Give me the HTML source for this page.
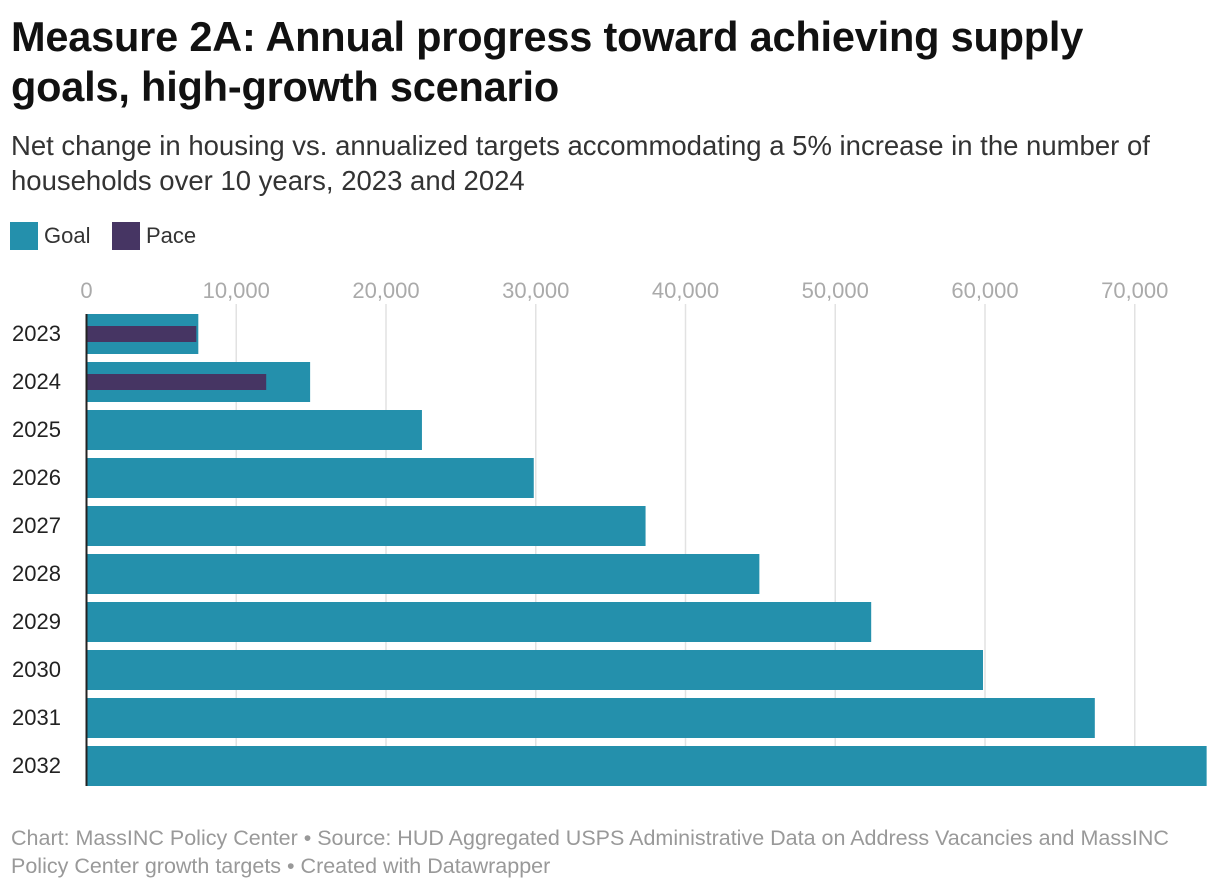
<!DOCTYPE html>
<html><head><meta charset="utf-8"><style>
body{margin:0;background:#fff;font-family:"Liberation Sans",sans-serif;width:1220px;height:888px;overflow:hidden;position:relative}
.t{position:absolute;left:11px;top:12px;font-size:41.5px;font-weight:bold;line-height:50px;color:#111;width:1100px;letter-spacing:-0.2px}
.s{position:absolute;left:11px;top:128px;font-size:27.5px;line-height:35px;color:#333;width:1180px}
.lg{position:absolute;top:222px;font-size:22px;color:#333;display:flex;align-items:center}
.sw{width:28px;height:28px;margin-right:6px}
.f{position:absolute;left:11px;top:824px;font-size:21.5px;line-height:28px;color:#999;width:1180px}
</style></head><body>
<div class="t">Measure 2A: Annual progress toward achieving supply goals, high-growth scenario</div>
<div class="s">Net change in housing vs. annualized targets accommodating a 5% increase in the number of households over 10 years, 2023 and 2024</div>
<div class="lg" style="left:10px"><div class="sw" style="background:#2490ac"></div>Goal</div>
<div class="lg" style="left:112px"><div class="sw" style="background:#463563"></div>Pace</div>
<svg id="c" width="1220" height="888" style="position:absolute;left:0;top:0"></svg>
<div class="f">Chart: MassINC Policy Center • Source: HUD Aggregated USPS Administrative Data on Address Vacancies and MassINC Policy Center growth targets • Created with Datawrapper</div>
<script>
const years=["2023","2024","2025","2026","2027","2028","2029","2030","2031","2032"];
const goal=[7467,14933,22400,29867,37333,44933,52400,59867,67333,74800];
const pace=[7333,12000,null,null,null,null,null,null,null,null];
const ticks=[0,10000,20000,30000,40000,50000,60000,70000];
const ns="http://www.w3.org/2000/svg",svg=document.getElementById('c');
const x=v=>86.5+v*0.014975;
const y=i=>314+i*48;
function mk(t,a){const e=document.createElementNS(ns,t);for(const k in a)e.setAttribute(k,a[k]);svg.appendChild(e);return e;}
ticks.forEach(t=>{
 if(t>0){const g=mk('line',{x1:x(t),x2:x(t),y1:304,y2:786,stroke:'#e2e2e2','stroke-width':1.5});
 
 }
 const l=mk('text',{x:x(t),y:298,'text-anchor':'middle','font-size':22,fill:'#aaa'});
 l.textContent=t.toLocaleString('en-US');
 
 
});
years.forEach((yr,i)=>{
 const b=mk('rect',{x:x(0),y:y(i),width:x(goal[i])-x(0),height:40,fill:'#2490ac'});
 
 
 if(pace[i]!=null){const p=mk('rect',{x:x(0),y:y(i)+12,width:x(pace[i])-x(0),height:16,fill:'#463563'});
 
 }
 const l=mk('text',{x:12,y:y(i)+27,'font-size':22,fill:'#222'});
 l.textContent=yr;
 
 
});
const ax=mk('line',{x1:86.5,x2:86.5,y1:314,y2:786,stroke:'#222','stroke-width':2});


</script>
</body></html>
